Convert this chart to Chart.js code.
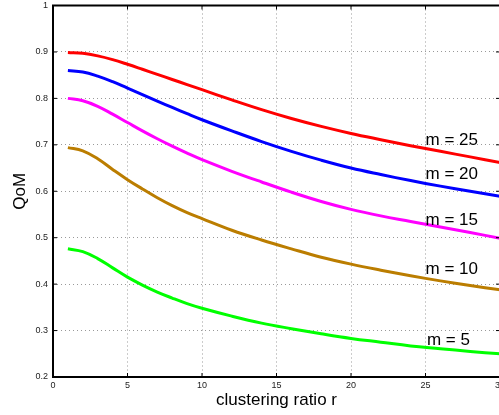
<!DOCTYPE html>
<html><head><meta charset="utf-8">
<script src="https://cdn.jsdelivr.net/npm/chart.js@4.4.1/dist/chart.umd.min.js"></script>
<style>
html,body{margin:0;padding:0;overflow:hidden;background:#fff;width:499px;height:415px;}
#wrap{position:relative;width:512px;height:415px;}
canvas{display:block;}
</style></head><body>
<div id="wrap"><canvas id="c" width="512" height="415"></canvas></div>
<script>
const ratios = [1,2,3,4,5,6,7,8,9,10,12,14,16,18,20,22,24,26,28,30];
const qomM25 = [0.899,0.897,0.8915,0.8835,0.8735,0.8627,0.8517,0.8407,0.8297,0.8187,0.7967,0.7757,0.7567,0.7397,0.7245,0.711,0.698,0.686,0.674,0.662];
const qomM20 = [0.860,0.857,0.848,0.836,0.822,0.808,0.794,0.7805,0.767,0.754,0.730,0.707,0.686,0.667,0.650,0.636,0.623,0.611,0.600,0.589];
const qomM15 = [0.800,0.795,0.783,0.766,0.748,0.730,0.713,0.697,0.682,0.668,0.643,0.620,0.598,0.578,0.561,0.547,0.535,0.523,0.511,0.499];
const qomM10 = [0.694,0.687,0.670,0.647,0.625,0.605,0.586,0.569,0.554,0.541,0.516,0.495,0.476,0.458,0.443,0.430,0.418,0.407,0.397,0.388];
const qomM5  = [0.476,0.470,0.455,0.435,0.415,0.398,0.383,0.370,0.358,0.348,0.331,0.316,0.304,0.293,0.283,0.275,0.267,0.261,0.255,0.250];
const seriesNames = ['m = 25','m = 20','m = 15','m = 10','m = 5'];
const seriesColors = ['#ff0000','#0000ff','#ff00ff','#bb7d00','#00ff00'];
const xTicks = [0,5,10,15,20,25,30];
const yTicks = [0.2,0.3,0.4,0.5,0.6,0.7,0.8,0.9,1];
const labelAnchorR = [25,25,25,25,25.1];
const labelAnchorQoM = [0.709,0.636,0.537,0.431,0.280];

const allSeries = [qomM25,qomM20,qomM15,qomM10,qomM5];
Chart.defaults.font.family = '"Liberation Sans", Arial, Helvetica, sans-serif';

const frame = {
  id:'frame',
  afterDatasetsDraw(chart){
    const {ctx, chartArea:a, scales:{x,y}} = chart;
    ctx.save();
    ctx.strokeStyle='#000'; ctx.lineWidth=1;
    ctx.beginPath();
    xTicks.forEach(v=>{const p=x.getPixelForValue(v);
      ctx.moveTo(p,a.bottom); ctx.lineTo(p,a.bottom-4);
      ctx.moveTo(p,a.top); ctx.lineTo(p,a.top+4);});
    yTicks.forEach(v=>{const p=y.getPixelForValue(v);
      ctx.moveTo(a.left,p); ctx.lineTo(a.left+4,p);
      ctx.moveTo(a.right,p); ctx.lineTo(a.right-4,p);});
    ctx.stroke();
    ctx.lineWidth=2;
    ctx.strokeRect(a.left,a.top,a.right-a.left,a.bottom-a.top);
    ctx.fillStyle='#000';
    ctx.font='17px "Liberation Sans", Arial, sans-serif';
    ctx.textBaseline='middle'; ctx.textAlign='left';
    seriesNames.forEach((t,i)=>ctx.fillText(t, x.getPixelForValue(labelAnchorR[i]), y.getPixelForValue(labelAnchorQoM[i])));
    ctx.restore();
  }
};

new Chart(document.getElementById('c'), {
  type:'line',
  data:{
    datasets: allSeries.map((s,i)=>({
      label: seriesNames[i],
      data: ratios.map((r,j)=>({x:r,y:s[j]})),
      borderColor: seriesColors[i],
      backgroundColor: seriesColors[i],
      borderWidth: 3,
      pointRadius: 0,
      fill:false,
      tension:0.4
    }))
  },
  options:{
    responsive:false, animation:false, devicePixelRatio:1,
    layout:{padding:{left:0,top:0,right:12,bottom:0}},
    plugins:{legend:{display:false}, tooltip:{enabled:false}},
    scales:{
      x:{type:'linear', min:0, max:30,
        afterBuildTicks:s=>{s.ticks=xTicks.map(v=>({value:v}));},
        afterFit:s=>{s.height=38; s.paddingRight=0; s.paddingLeft=0;},
        ticks:{font:{size:9}, color:'#222', padding:3, maxRotation:0, callback:v=>String(v)},
        grid:{color:'#999', lineWidth:1, drawTicks:false},
        border:{display:false, dash:[1,3]},
        title:{display:true, text:'clustering ratio r', color:'#000', font:{size:17, lineHeight:1}, padding:{top:0,bottom:6}}
      },
      y:{type:'linear', min:0.2, max:1,
        afterBuildTicks:s=>{s.ticks=yTicks.map(v=>({value:v}));},
        afterFit:s=>{s.width=53; s.paddingTop=5.5; s.paddingBottom=0;},
        ticks:{font:{size:9}, color:'#222', padding:5, callback:v=>String(v)},
        grid:{color:'#999', lineWidth:1, drawTicks:false},
        border:{display:false, dash:[1,3]},
        title:{display:true, text:'QoM', color:'#000', font:{size:17, lineHeight:1}, padding:{top:12,bottom:0}}
      }
    }
  },
  plugins:[frame]
});
</script>
</body></html>
